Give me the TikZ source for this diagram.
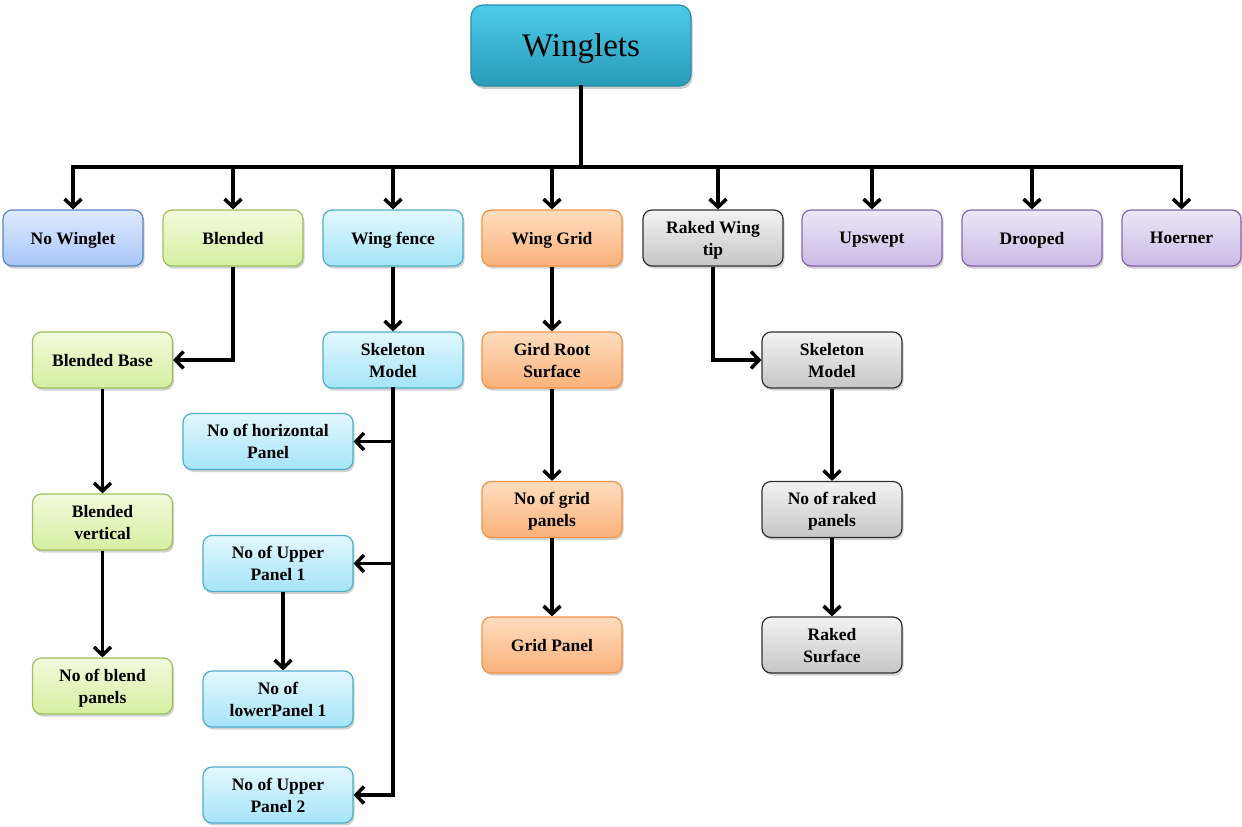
\documentclass[tikz,border=0pt]{standalone}
\usepackage{fontspec}
\setmainfont{Liberation Serif}
\usetikzlibrary{arrows.meta,shadows,calc}
\definecolor{tealT}{HTML}{4CCBE9}
\definecolor{tealB}{HTML}{2A9BB9}
\definecolor{tealD}{HTML}{2A8CA8}
\definecolor{blueT}{HTML}{DFEAFD}
\definecolor{blueB}{HTML}{A8C6F9}
\definecolor{blueD}{HTML}{5585C2}
\definecolor{greenT}{HTML}{F2FBDD}
\definecolor{greenB}{HTML}{D5EFA0}
\definecolor{greenD}{HTML}{9DC05A}
\definecolor{cyanT}{HTML}{E3F8FE}
\definecolor{cyanB}{HTML}{A5E4F8}
\definecolor{cyanD}{HTML}{4DAFCB}
\definecolor{orT}{HTML}{FEDDBE}
\definecolor{orB}{HTML}{FBB27B}
\definecolor{orD}{HTML}{F39245}
\definecolor{grT}{HTML}{F3F3F3}
\definecolor{grB}{HTML}{C6C6C6}
\definecolor{grD}{HTML}{303030}
\definecolor{puT}{HTML}{EEE6F7}
\definecolor{puB}{HTML}{CBBAE5}
\definecolor{puD}{HTML}{8566A8}
\tikzset{
  box/.style={rounded corners=9pt, line width=1.2pt, minimum width=140pt,
    minimum height=56pt, align=center, inner sep=2pt, text depth=0pt,
    font=\bfseries\fontsize{17.5}{22}\selectfont,
    drop shadow={opacity=0.35, shadow xshift=1.5pt, shadow yshift=-2.5pt}},
  bluebox/.style={box, draw=blueD, top color=blueT, bottom color=blueB},
  greenbox/.style={box, draw=greenD, top color=greenT, bottom color=greenB},
  cyanbox/.style={box, draw=cyanD, top color=cyanT, bottom color=cyanB},
  orbox/.style={box, draw=orD, top color=orT, bottom color=orB},
  grbox/.style={box, draw=grD, top color=grT, bottom color=grB},
  pubox/.style={box, draw=puD, top color=puT, bottom color=puB},
  wire/.style={line width=3.5pt, line cap=rect},
  conn/.style={line width=3.5pt, -{Straight Barb[length=8pt,width=17pt]}},
}
\begin{document}
\begin{tikzpicture}[x=1pt,y=-1pt]
\useasboundingbox (0,0) rectangle (1242,827);
% top
\node[rounded corners=12pt, line width=1.2pt, draw=tealD, top color=tealT, bottom color=tealB,
  minimum width=220pt, minimum height=81pt, font=\fontsize{33}{36}\selectfont, text depth=0pt,
  drop shadow={opacity=0.4, shadow xshift=1.5pt, shadow yshift=-3pt}] (wl) at (581,45.5) {Winglets};
% row 1
\node[bluebox] (nw) at (73,238) {No Winglet};
\node[greenbox] (bl) at (233,238) {Blended};
\node[cyanbox] (wf) at (393,238) {Wing fence};
\node[orbox] (wg) at (552,238) {Wing Grid};
\node[grbox] (rw) at (713,238) {Raked Wing\\tip};
\node[pubox] (up) at (872,238) {Upswept};
\node[pubox] (dr) at (1032,238) {Drooped};
\node[pubox, minimum width=119pt] (ho) at (1181.5,238) {Hoerner};
% blended column
\node[greenbox] (bb) at (102.5,360) {Blended Base};
\node[greenbox] (bv) at (102.5,522) {Blended\\vertical};
\node[greenbox] (bp) at (102.5,686) {No of blend\\panels};
% wing fence column
\node[cyanbox] (sk1) at (393,360) {Skeleton\\Model};
\node[cyanbox, minimum width=170pt] (hp) at (268,441.5) {No of horizontal\\Panel};
\node[cyanbox, minimum width=150pt] (u1) at (278,563.5) {No of Upper\\Panel 1};
\node[cyanbox, minimum width=150pt] (l1) at (278,699) {No of\\lowerPanel 1};
\node[cyanbox, minimum width=150pt] (u2) at (278,795) {No of Upper\\Panel 2};
% wing grid column
\node[orbox] (gr) at (552,360) {Gird Root\\Surface};
\node[orbox] (gp) at (552,509.5) {No of grid\\panels};
\node[orbox] (gpl) at (552,645) {Grid Panel};
% raked column
\node[grbox] (sk2) at (832,360) {Skeleton\\Model};
\node[grbox] (rp) at (832,509.5) {No of raked\\panels};
\node[grbox] (rs) at (832,645) {Raked\\Surface};
% bus
\coordinate (bus) at (581,167);
\draw[wire] (wl.south) -- (bus);
\draw[wire] (nw.north |- bus) -- (ho.north |- bus);
\foreach \n in {nw,bl,wf,wg,up,dr,ho}{
  \draw[conn] (\n.north |- bus) -- (\n.north);
}
\draw[conn] ([xshift=5pt]rw.north |- bus) -- ([xshift=5pt]rw.north);
% blended
\draw[conn] (bl.south) |- (bb.east);
\draw[conn] (bb.south) -- (bv.north);
\draw[conn] (bv.south) -- (bp.north);
% wing fence
\draw[conn] (wf.south) -- (sk1.north);
\draw[wire] (sk1.south) -- (sk1.south |- u2.east);
\draw[conn] (sk1.south |- hp.east) -- (hp.east);
\draw[conn] (sk1.south |- u1.east) -- (u1.east);
\draw[conn] (sk1.south |- u2.east) -- (u2.east);
\draw[conn] ([xshift=5pt]u1.south) -- ([xshift=5pt]l1.north);
% wing grid
\draw[conn] (wg.south) -- (gr.north);
\draw[conn] (gr.south) -- (gp.north);
\draw[conn] (gp.south) -- (gpl.north);
% raked
\draw[conn] (rw.south) |- (sk2.west);
\draw[conn] (sk2.south) -- (rp.north);
\draw[conn] (rp.south) -- (rs.north);
\end{tikzpicture}
\end{document}
